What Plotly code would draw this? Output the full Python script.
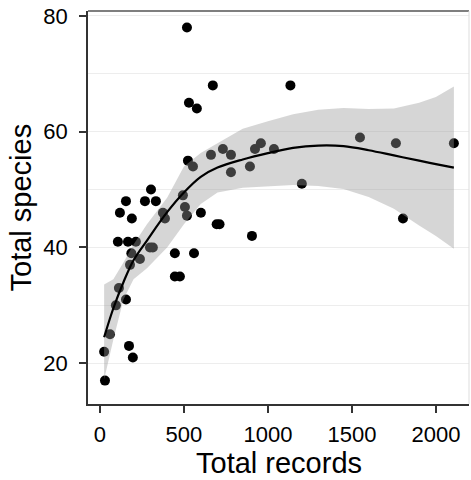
import plotly.graph_objects as go

# ---- data ----
records = [30, 25, 60, 95, 155, 113, 173, 196, 107, 167, 214, 187, 238, 179,
           298, 315, 446, 560, 446, 476, 905, 695, 712, 601, 494, 506, 518,
           119, 190, 155, 268, 333, 304, 375, 387, 518, 530, 577, 672, 1134,
           524, 554, 661, 732, 780, 780, 893, 923, 958, 1036, 1202, 1548,
           1762, 1804, 2107]
species = [17, 22, 25, 30, 31, 33, 23, 21, 41, 41, 41, 39, 38, 37,
           40, 40, 39, 39, 35, 35, 42, 44, 44, 46, 49, 47, 45.5,
           46, 45, 48, 48, 48, 50, 46, 45, 78, 65, 64, 68, 68,
           55, 54, 56, 57, 56, 53, 54, 57, 58, 57, 51, 59,
           58, 45, 58]

smooth_x = [25, 80, 140, 200, 280, 400, 500, 600, 700, 850, 1000, 1150,
            1300, 1450, 1600, 1750, 1900, 2000, 2107]
smooth_y = [24.5, 29.5, 34.0, 37.8, 41.2, 46.1, 49.5, 52.2, 53.8, 55.2, 56.3,
            57.2, 57.6, 57.5, 56.8, 55.9, 55.0, 54.4, 53.8]
smooth_lo = [17.2, 24.1, 31.0, 34.5, 36.4, 40.0, 44.0, 47.5, 49.5, 50.3, 50.6,
             50.8, 50.6, 50.1, 48.7, 46.7, 43.8, 42.0, 39.8]
smooth_hi = [33.6, 34.5, 37.4, 40.5, 44.0, 48.6, 54.0, 56.3, 58.0, 60.5, 61.8,
             63.0, 63.8, 64.1, 63.9, 64.0, 65.0, 66.0, 67.8]

x_ticks = [0, 500, 1000, 1500, 2000]
y_ticks = [20, 40, 60, 80]
x_title = "Total records"
y_title = "Total species"

FONT = "Liberation Sans, Arial, sans-serif"

fig = go.Figure()
fig.add_trace(go.Scatter(
    x=records, y=species, mode="markers",
    marker=dict(color="black", size=10, line=dict(width=0)),
    hoverinfo="skip", showlegend=False))
fig.add_trace(go.Scatter(
    x=smooth_x + smooth_x[::-1], y=smooth_hi + smooth_lo[::-1],
    fill="toself", fillcolor="rgba(153,153,153,0.4)",
    line=dict(width=0), mode="lines", hoverinfo="skip", showlegend=False))
fig.add_trace(go.Scatter(
    x=smooth_x, y=smooth_y, mode="lines",
    line=dict(color="black", width=2.2, shape="spline"),
    hoverinfo="skip", showlegend=False))

fig.update_layout(
    width=471, height=480,
    margin=dict(l=88, r=2, t=11, b=76, autoexpand=False),
    paper_bgcolor="white", plot_bgcolor="white",
    font=dict(family=FONT, color="black"),
    shapes=[
        dict(type="line", xref="paper", yref="paper", x0=0, x1=1, y0=1, y1=1,
             line=dict(color="#555555", width=1.5)),
        dict(type="line", xref="paper", yref="paper", x0=1, x1=1, y0=0, y1=1,
             line=dict(color="#dddddd", width=1)),
    ],
    annotations=[
        dict(text=x_title, xref="paper", yref="paper", x=0.5, y=0,
             xanchor="center", yanchor="top", yshift=-41, showarrow=False,
             font=dict(size=29, color="black")),
        dict(text=y_title, xref="paper", yref="paper", x=(20 - 88) / 381, y=0.5,
             xanchor="center", yanchor="middle", textangle=-90, showarrow=False,
             font=dict(size=29, color="black")),
    ],
)
fig.update_xaxes(
    range=[-71, 2197], tickvals=x_ticks, ticktext=[str(v) for v in x_ticks],
    showgrid=False, zeroline=False, automargin=False,
    showline=True, linecolor="#333333", linewidth=1.5,
    ticks="outside", ticklen=7, tickwidth=1.5, tickcolor="#333333",
    tickfont=dict(size=22, color="black"), ticklabelstandoff=3,
)
fig.update_yaxes(
    range=[12.96, 80.85], tickvals=y_ticks, ticktext=[str(v) for v in y_ticks],
    showgrid=True, gridcolor="#ededed", gridwidth=1,
    minor=dict(dtick=10, tick0=0, showgrid=True, gridcolor="#ededed", gridwidth=1, ticks=""),
    zeroline=False, automargin=False,
    showline=True, linecolor="#333333", linewidth=1.5,
    ticks="outside", ticklen=7, tickwidth=1.5, tickcolor="#333333",
    tickfont=dict(size=22, color="black"), ticklabelstandoff=7,
)

fig.write_html(
    "out.html",
    config={"displayModeBar": False},
    post_script="document.body.style.margin='0';document.body.style.overflow='hidden';",
)
